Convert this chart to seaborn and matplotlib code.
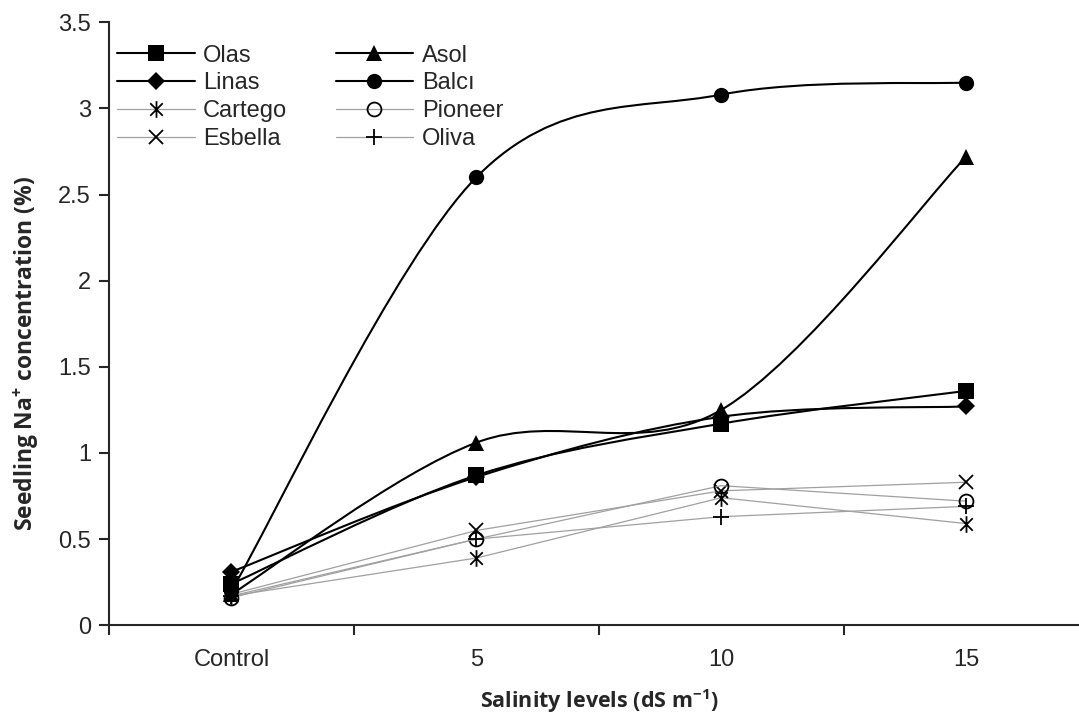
import numpy as np
import matplotlib
matplotlib.use("Agg")
import matplotlib.pyplot as plt
from matplotlib.path import Path
from matplotlib.patches import PathPatch
from matplotlib.lines import Line2D
import seaborn as sns

levels = ["Control", "5", "10", "15"]

olas = [0.24, 0.87, 1.17, 1.36]
asol = [0.18, 1.06, 1.25, 2.72]
linas = [0.31, 0.86, 1.21, 1.27]
balci = [0.20, 2.60, 3.08, 3.15]
cartego = [0.17, 0.39, 0.74, 0.59]
pioneer = [0.16, 0.50, 0.81, 0.72]
esbella = [0.18, 0.55, 0.78, 0.83]
oliva = [0.17, 0.50, 0.63, 0.69]

sns.set_style("ticks")
plt.rcParams["font.family"] = ["Liberation Sans", "DejaVu Sans"]
plt.rcParams["mathtext.fontset"] = "custom"
plt.rcParams["mathtext.rm"] = "Open Sans:bold"
plt.rcParams["mathtext.default"] = "rm"

# asterisk like excel: vertical bar plus an x
ast = Path([(0, -1), (0, 1), (-0.75, -0.75), (0.75, 0.75), (-0.75, 0.75), (0.75, -0.75)],
           [Path.MOVETO, Path.LINETO, Path.MOVETO, Path.LINETO, Path.MOVETO, Path.LINETO])

black = [("Olas", olas, "s", 12), ("Linas", linas, "D", 9),
         ("Asol", asol, "^", 12), ("Balcı", balci, "o", 11)]
grey = [("Cartego", cartego, ast, 12), ("Esbella", esbella, "x", 10),
        ("Pioneer", pioneer, "o", 10), ("Oliva", oliva, "+", 11)]


def smooth_path(xs, ys):
    # excel style smoothed line: cubic bezier between data points
    pts = np.column_stack([xs, ys]).astype(float)
    n = len(pts)
    verts = [pts[0]]
    codes = [Path.MOVETO]
    for i in range(n - 1):
        p0 = pts[max(i - 1, 0)]
        p1 = pts[i]
        p2 = pts[i + 1]
        p3 = pts[min(i + 2, n - 1)]
        verts += [p1 + (p2 - p0) / 6, p2 - (p3 - p1) / 6, p2]
        codes += [Path.CURVE4] * 3
    return Path(verts, codes)


fig = plt.figure(figsize=(10.79, 7.17), dpi=100)
ax = fig.add_axes([0.101, 0.128, 0.908, 0.841])

x = np.arange(len(levels))
handles = {}

for name, vals, mk, ms in grey:
    sns.lineplot(x=x, y=vals, ax=ax, color="#a0a0a0", linewidth=0.9,
                 marker=mk, markersize=ms, markerfacecolor="none",
                 markeredgecolor="black", markeredgewidth=1.3, zorder=2)
    handles[name] = Line2D([], [], color="#a0a0a0", linewidth=0.9, marker=mk, markersize=ms,
                           markerfacecolor="none", markeredgecolor="black", markeredgewidth=1.3)

for name, vals, mk, ms in black:
    ax.add_patch(PathPatch(smooth_path(x, vals), facecolor="none", edgecolor="black",
                           linewidth=1.5, zorder=3))
    sns.lineplot(x=x, y=vals, ax=ax, color="black", linestyle="", marker=mk,
                 markersize=ms, markeredgecolor="black", markeredgewidth=0, zorder=4)
    handles[name] = Line2D([], [], color="black", linewidth=1.5, marker=mk, markersize=ms,
                           markeredgewidth=0)

ax.set_xlim(-0.5, 3.5)
ax.set_ylim(0, 3.5)
ax.set_yticks(np.arange(0, 3.51, 0.5))
ax.set_yticklabels(["0", "0.5", "1", "1.5", "2", "2.5", "3", "3.5"])
ax.set_xticks([-0.5, 0.5, 1.5, 2.5, 3.5])
ax.set_xticklabels([])
ax.set_xticks(x, minor=True)
ax.set_xticklabels(levels, minor=True)
ax.tick_params(axis="x", which="minor", length=0, pad=17, labelsize=17)
ax.tick_params(axis="x", which="major", length=7, width=1.5, direction="out")
ax.tick_params(axis="y", length=7, width=1.5, direction="out", pad=6, labelsize=17)

for s in ["left", "bottom"]:
    ax.spines[s].set_linewidth(1.5)
sns.despine(ax=ax)

ax.set_xlabel(r"Salinity levels (dS m$^{-1}$)", fontfamily="Open Sans", fontweight="bold",
              fontsize=15.5, labelpad=12)
ax.set_ylabel(r"Seedling Na$^{+}$ concentration (%)", fontfamily="Open Sans", fontweight="bold",
              fontsize=16.5)
ax.yaxis.set_label_coords(-0.069, 0.45)

order = ["Olas", "Linas", "Cartego", "Esbella", "Asol", "Balcı", "Pioneer", "Oliva"]
ax.legend([handles[k] for k in order], order, ncol=2, loc="upper left",
          bbox_to_anchor=(0.008, 0.963), frameon=False, fontsize=17,
          handlelength=3.3, handletextpad=0.35, columnspacing=2.05,
          labelspacing=0.25, borderpad=0, borderaxespad=0)

fig.savefig("out.png", dpi=100)
